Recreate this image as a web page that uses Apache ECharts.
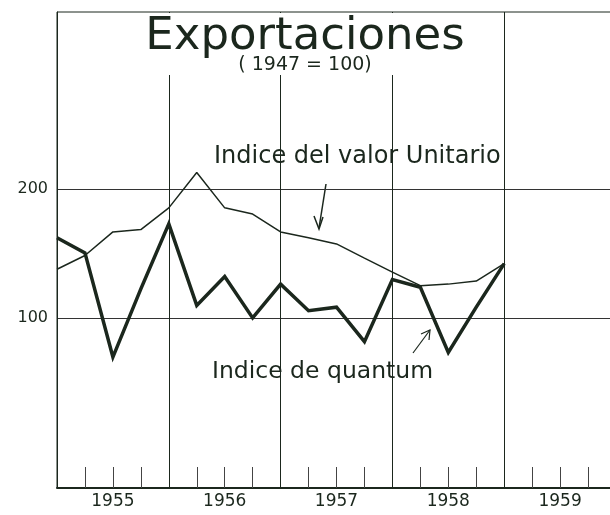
<!DOCTYPE html>
<html>
<head>
<meta charset="utf-8">
<script src="https://cdn.jsdelivr.net/npm/echarts@6/dist/echarts.min.js"></script>
<style>
html,body{margin:0;padding:0;background:#ffffff;}
#chart{width:610px;height:515px;}
</style>
</head>
<body>
<div id="chart"></div>
<script>
// ---- data (1947 = 100, quarterly) ----
const years = ['1955', '1956', '1957', '1958', '1959'];
const quarters = [1955, 1955.25, 1955.5, 1955.75, 1956, 1956.25, 1956.5, 1956.75,
                  1957, 1957.25, 1957.5, 1957.75, 1958, 1958.25, 1958.5, 1958.75, 1959];
const quantumIndex = [154, 142, 81, 117, 166, 107, 125, 100,
                      120, 104, 106, 88, 123, 118, 83, 106, 134];
const unitValueIndex = [130, 140, 159, 161, 181, 219, 181, 175,
                        159, 154, 149, 138, 128, 119, 120, 122, 134];
const yTickValues = [100, 200];

const ink = '#1b271d';
const font = 'DejaVu Sans';

const chart = echarts.init(document.getElementById('chart'), null, {renderer: 'canvas'});

const option = {
  backgroundColor: '#ffffff',
  animation: false,
  title: {
    text: 'Exportaciones',
    subtext: '( 1947 = 100)',
    left: 'center',
    top: 13,
    itemGap: -4,
    padding: [2, 16, 0, 16],
    backgroundColor: '#ffffff',
    textStyle: {fontFamily: font, fontSize: 45, fontWeight: 'normal', color: ink},
    subtextStyle: {fontFamily: font, fontSize: 19, color: ink}
  },
  grid: {
    left: 57, top: 12, width: 559, height: 476,
    outerBoundsMode: 'none',
    containLabel: false,
    show: true, borderColor: ink, borderWidth: 1, backgroundColor: 'transparent'
  },
  xAxis: [
    {
      type: 'value',
      min: 1955, max: 1960, interval: 1,
      axisLine: {show: true, lineStyle: {color: ink, width: 2}},
      axisTick: {show: false, inside: true},
      minorTick: {show: true, splitNumber: 4, length: 21, lineStyle: {color: '#444', width: 1}},
      axisLabel: {show: false},
      splitLine: {show: true, lineStyle: {color: ink, width: 1}},
      minorSplitLine: {show: false}
    },
    {
      type: 'category',
      data: years,
      position: 'bottom',
      boundaryGap: true,
      axisLine: {show: false},
      axisTick: {show: false},
      splitLine: {show: false},
      axisLabel: {fontFamily: font, fontSize: 17, color: ink, margin: 5}
    }
  ],
  yAxis: {
    type: 'log',
    logBase: 10,
    min: 40, max: 520,
    axisLine: {show: true, lineStyle: {color: ink, width: 1}},
    axisTick: {show: false, customValues: yTickValues},
    axisLabel: {customValues: yTickValues, fontFamily: font, fontSize: 16, color: ink, margin: 9},
    splitLine: {show: true, lineStyle: {color: '#333', width: 1}},
    minorSplitLine: {show: false}
  },
  series: [
    {
      name: 'Indice del valor Unitario',
      type: 'line',
      xAxisIndex: 0,
      showSymbol: false,
      data: quarters.map((q, i) => [q, unitValueIndex[i]]),
      lineStyle: {color: ink, width: 1.5},
      itemStyle: {color: ink},
      z: 3
    },
    {
      name: 'Indice de quantum',
      type: 'line',
      xAxisIndex: 0,
      showSymbol: false,
      data: quarters.map((q, i) => [q, quantumIndex[i]]),
      lineStyle: {color: ink, width: 3.5, join: 'miter'},
      itemStyle: {color: ink},
      z: 4
    }
  ],
  graphic: [
    {type: 'text', left: 214, top: 145,
     style: {text: 'Indice del valor Unitario', font: '24px "DejaVu Sans"', fill: ink}},
    {type: 'text', left: 212, top: 360,
     style: {text: 'Indice de quantum', font: '23.5px "DejaVu Sans"', fill: ink}},
    {type: 'line', shape: {x1: 326, y1: 184, x2: 319, y2: 228},
     style: {stroke: ink, lineWidth: 1.5}},
    {type: 'polyline', shape: {points: [[314, 216], [319, 229], [323, 217]]},
     style: {stroke: ink, lineWidth: 1.5, fill: null}},
    {type: 'line', shape: {x1: 413, y1: 353, x2: 430, y2: 330},
     style: {stroke: ink, lineWidth: 1.2}},
    {type: 'polyline', shape: {points: [[421, 334], [430, 330], [429, 340]]},
     style: {stroke: ink, lineWidth: 1.2, fill: null}}
  ]
};

chart.setOption(option);
</script>
</body>
</html>
